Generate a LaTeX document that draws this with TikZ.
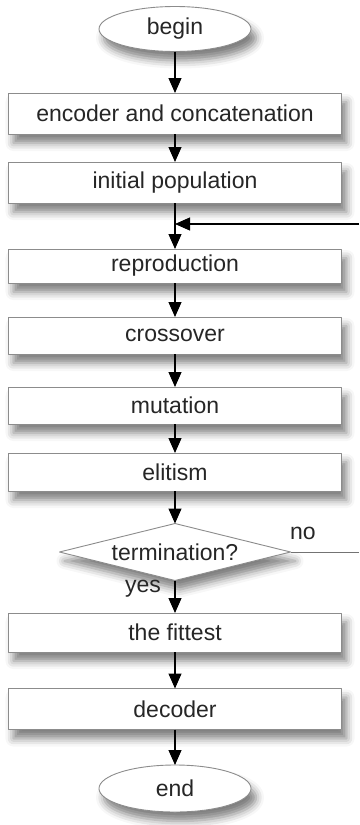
\documentclass[tikz,border=0pt]{standalone}
\usepackage{fontspec}
\setmainfont{Liberation Sans}
\usetikzlibrary{arrows.meta,shapes.geometric,shadows.blur}

\tikzset{
  flowshadow/.style={blur shadow={shadow xshift=5pt,shadow yshift=-9pt,shadow blur radius=8pt,shadow opacity=50}},
  procbox/.style={draw=black!45,fill=white,line width=0.9pt,minimum width=333pt,minimum height=38pt,inner sep=0pt,outer sep=0pt,flowshadow},
  termnode/.style={ellipse,draw=black!45,fill=white,line width=0.9pt,minimum width=152pt,minimum height=45pt,inner sep=0pt,outer sep=0pt,flowshadow},
  decnode/.style={diamond,aspect=4,draw=black!45,fill=white,line width=0.9pt,minimum width=231pt,minimum height=57pt,inner sep=0pt,outer sep=0pt,flowshadow},
  flow/.style={->,line width=1.1pt}
}

\begin{document}
\begin{tikzpicture}[x=1pt,y=-1pt,>={Triangle[length=15pt,width=13pt]},line join=round,font=\fontsize{23}{27}\selectfont,text=black!85]
\useasboundingbox (0,0) rectangle (359,825);
% steps of the loop
\node[termnode] (begin) at (175,29) {begin};
\node[procbox,minimum height=41pt] (encoder) at (175,113.5) {encoder and concatenation};
\node[procbox,minimum height=41pt] (initpop) at (175,182.5) {initial population};
\node[procbox,minimum height=34pt] (repro) at (175,266) {reproduction};
\node[procbox,minimum height=37pt] (cross) at (175,335.5) {crossover};
\node[procbox,minimum height=37pt] (mutate) at (175,405.5) {mutation};
\node[procbox] (elite) at (175,472) {elitism};
\node[decnode] (term) at (175,552) {termination?};
\node[procbox,minimum height=39pt] (fittest) at (175,632.5) {the fittest};
\node[procbox,minimum height=41pt] (decoder) at (175,709) {decoder};
\node[termnode,minimum height=47pt] (end) at (175,788.5) {end};
% loop back
\coordinate (fbjoin) at (175,224);
\coordinate (fbin) at (359,224);
\coordinate (noout) at (359,552);
\draw[flow] (begin) -- (encoder);
\draw[flow] (encoder) -- (initpop);
\draw[flow] (initpop) -- (repro);
\draw[flow] (repro) -- (cross);
\draw[flow] (cross) -- (mutate);
\draw[flow] (mutate) -- (elite);
\draw[flow] (elite) -- (term);
\draw[flow] (term) -- (fittest);
\draw[flow] (fittest) -- (decoder);
\draw[flow] (decoder) -- (end);
\draw[line width=0.9pt,black!55] (term.east) -- (noout);
\draw[flow] (fbin) -- (fbjoin);
\node (nolabel) at (303,533) {no};
\node (yeslabel) at (143,589) {yes};
\end{tikzpicture}
\end{document}
